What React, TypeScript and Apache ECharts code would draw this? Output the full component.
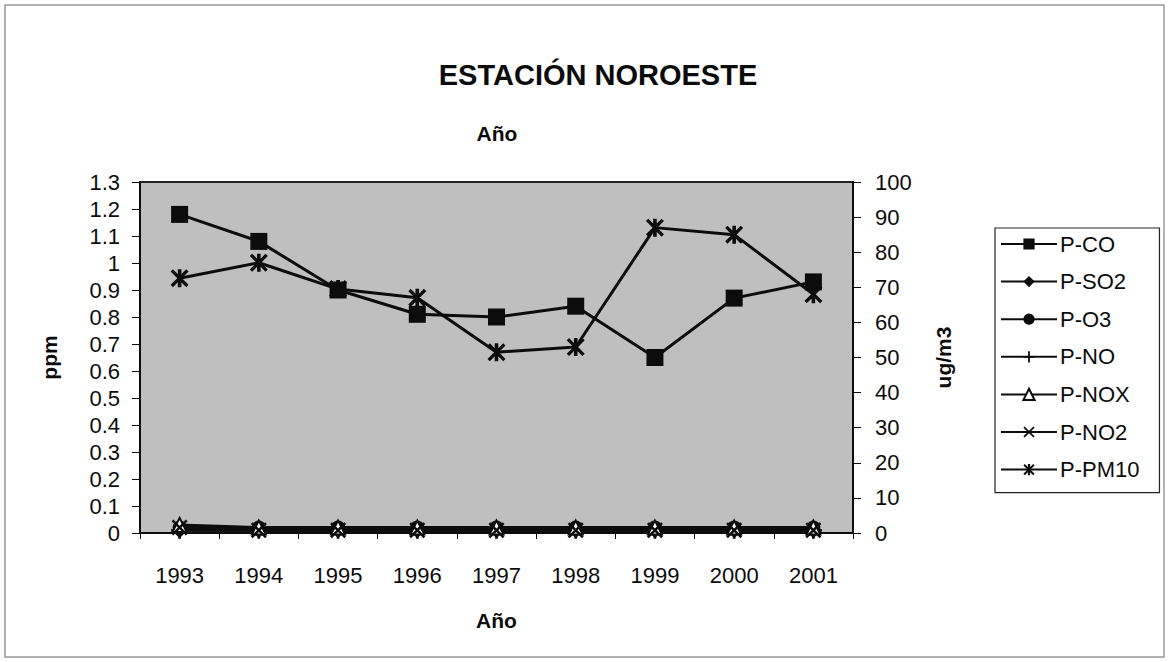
import React, { useEffect, useRef } from "react";
import * as echarts from "echarts";

const years = ["1993", "1994", "1995", "1996", "1997", "1998", "1999", "2000", "2001"];
const pCO = [1.18, 1.08, 0.9, 0.81, 0.8, 0.84, 0.65, 0.87, 0.93];
const pSO2 = [0.01, 0.01, 0.01, 0.01, 0.01, 0.01, 0.01, 0.01, 0.01];
const pO3 = [0.02, 0.02, 0.02, 0.02, 0.02, 0.02, 0.02, 0.02, 0.02];
const pNO = [0.01, 0.01, 0.01, 0.01, 0.01, 0.01, 0.01, 0.01, 0.01];
const pNOX = [0.03, 0.02, 0.02, 0.02, 0.02, 0.02, 0.02, 0.02, 0.02];
const pNO2 = [0.02, 0.01, 0.01, 0.01, 0.01, 0.01, 0.01, 0.01, 0.01];
const pPM10 = [72.6, 77, 69.5, 67, 51.5, 53, 87, 85, 68];

const PLUS = "path://M4.2,0H5.8V10H4.2ZM0,4.2H10V5.8H0Z";
const XMARK = "path://M0,1.1L1.1,0L5,3.9L8.9,0L10,1.1L6.1,5L10,8.9L8.9,10L5,6.1L1.1,10L0,8.9L3.9,5Z";
const STAR =
  "path://M0,1.3L1.3,0L5,3.7L8.7,0L10,1.3L6.3,5L10,8.7L8.7,10L5,6.3L1.3,10L0,8.7L3.7,5ZM4,0H6V10H4Z";

export default function App() {
  const ref = useRef<HTMLDivElement>(null);
  useEffect(() => {
    document.body.style.margin = "0";
    const chart = echarts.init(ref.current!, null, { renderer: "svg" });
    const font = "Arial, 'Liberation Sans', Helvetica, sans-serif";
    const ink = "#0c0c0c";
    const mk = (name: string, data: number[], symbol: string, size: number, extra: any = {}) => ({
      name,
      type: "line",
      data,
      symbol,
      symbolSize: size,
      lineStyle: { color: ink, width: 3 },
      itemStyle: { color: ink, borderColor: ink, borderWidth: 0 },
      ...extra,
    });
    chart.setOption({
      animation: false,
      backgroundColor: "#ffffff",
      textStyle: { fontFamily: font },
      title: {
        text: "ESTACIÓN NOROESTE",
        left: 593,
        top: 55,
        textAlign: "center",
        textStyle: { fontSize: 29, fontWeight: "bold", color: ink, fontFamily: font },
      },
      graphic: [
        {
          type: "rect",
          shape: { x: 5, y: 5, width: 1159, height: 652 },
          style: { fill: "none", stroke: "#999", lineWidth: 1.5 },
          silent: true,
          z: -10,
        },
        {
          type: "text",
          x: 497,
          y: 133,
          style: {
            text: "Año",
            fontSize: 21,
            fontWeight: "bold",
            fill: ink,
            fontFamily: font,
            align: "center",
            verticalAlign: "middle",
          },
        },
      ],
      legend: {
        orient: "vertical",
        left: 995,
        top: 228,
        itemWidth: 56,
        itemHeight: 14,
        itemGap: 15.6,
        padding: [5, 20, 12, 5],
        borderColor: "#222",
        borderWidth: 1.2,
        backgroundColor: "#fff",
        textStyle: {
          fontSize: 22,
          lineHeight: 22,
          color: ink,
          fontFamily: font,
          padding: [0, 0, 0, -2],
        },
        data: ["P-CO", "P-SO2", "P-O3", "P-NO", "P-NOX", "P-NO2", "P-PM10"],
      },
      grid: {
        left: 140,
        right: 316,
        top: 182,
        bottom: 129,
        show: true,
        backgroundColor: "#bfbfbf",
        borderColor: "#222",
        borderWidth: 2,
      },
      xAxis: {
        type: "category",
        data: years,
        boundaryGap: true,
        name: "Año",
        nameLocation: "middle",
        nameGap: 77,
        nameTextStyle: { fontSize: 21, fontWeight: "bold", color: ink, fontFamily: font },
        axisLine: { lineStyle: { color: ink, width: 2 } },
        axisTick: { show: true, length: 6, lineStyle: { color: ink } },
        axisLabel: { fontSize: 22, color: ink, margin: 31, fontFamily: font },
        splitLine: { show: false },
      },
      yAxis: [
        {
          type: "value",
          min: 0,
          max: 1.3,
          interval: 0.1,
          name: "ppm",
          nameLocation: "middle",
          nameGap: 80,
          nameRotate: 90,
          nameTextStyle: { fontSize: 21, fontWeight: "bold", color: ink, fontFamily: font },
          axisLine: { show: true, lineStyle: { color: ink, width: 2 } },
          axisTick: { show: true, length: 8, lineStyle: { color: ink } },
          axisLabel: {
            fontSize: 22,
            color: ink,
            margin: 20,
            fontFamily: font,
            formatter: (v: number) => String(Math.round(v * 10) / 10),
          },
          splitLine: { show: false },
        },
        {
          type: "value",
          min: 0,
          max: 100,
          interval: 10,
          name: "ug/m3",
          nameLocation: "middle",
          nameGap: 80,
          nameRotate: 90,
          nameTextStyle: { fontSize: 21, fontWeight: "bold", color: ink, fontFamily: font },
          axisLine: { show: true, lineStyle: { color: ink, width: 2 } },
          axisTick: { show: true, length: 8, lineStyle: { color: ink } },
          axisLabel: { fontSize: 22, color: ink, margin: 22, fontFamily: font },
          splitLine: { show: false },
        },
      ],
      series: [
        mk("P-CO", pCO, "rect", 17),
        mk("P-SO2", pSO2, "diamond", 16),
        mk("P-O3", pO3, "circle", 14),
        mk("P-NO", pNO, PLUS, 17),
        mk("P-NOX", pNOX, "triangle", 14, {
          itemStyle: { color: "#fff", borderColor: ink, borderWidth: 2 },
        }),
        mk("P-NO2", pNO2, XMARK, 16),
        mk("P-PM10", pPM10, STAR, 18, { yAxisIndex: 1 }),
      ],
    });
    return () => chart.dispose();
  }, []);
  return <div ref={ref} style={{ width: 1169, height: 662 }} />;
}
